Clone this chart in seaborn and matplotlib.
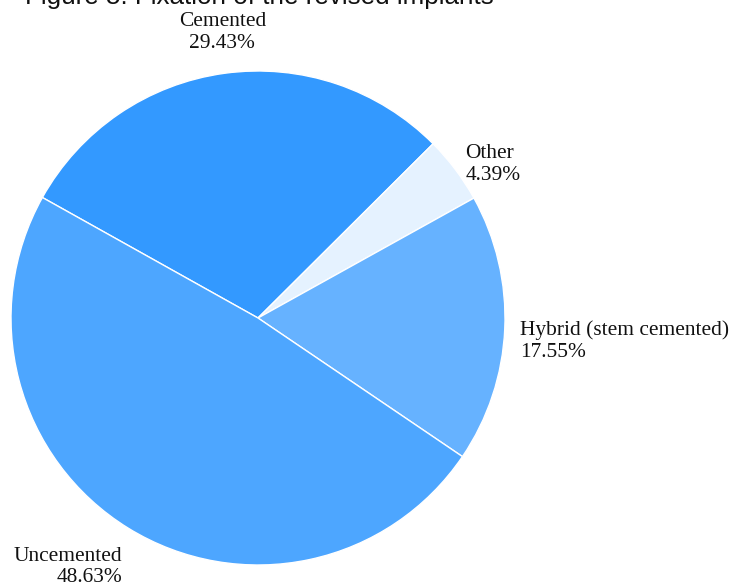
import matplotlib
matplotlib.use("Agg")
import matplotlib.pyplot as plt
import numpy as np
import seaborn as sns

sns.set_theme(style="white")

# Fixation type of revised implants
categories = ["Cemented", "Other", "Hybrid (stem cemented)", "Uncemented"]
shares = [29.43, 4.39, 17.55, 48.63]
colors = ["#3399FF", "#E5F2FF", "#66B2FF", "#4DA6FF"]
title = "Figure 5: Fixation of the revised implants"

# label offsets (pixels) from the rim point at each slice's mid angle
label_offset = [(-2, 41), (10, 5), (15, -12), (-6, -39)]
label_ha = ["center", "left", "left", "right"]

W, H = 730, 588
fig = plt.figure(figsize=(W / 100, H / 100), dpi=100)
cx, cy, R = 258, 318, 247
ax = fig.add_axes([(cx - R) / W, (H - cy - R) / H, 2 * R / W, 2 * R / H])

wedges, _ = ax.pie(
    shares,
    colors=colors,
    startangle=150.8,
    counterclock=False,
    radius=1.0,
    wedgeprops=dict(edgecolor="white", linewidth=1.0),
)
ax.set_xlim(-1, 1)
ax.set_ylim(-1, 1)
ax.set_aspect("equal")
ax.axis("off")

serif = ["Liberation Serif", "DejaVu Serif"]
for w, name, val, off, ha in zip(wedges, categories, shares, label_offset, label_ha):
    mid = np.deg2rad((w.theta1 + w.theta2) / 2)
    rim = (np.cos(mid), np.sin(mid))
    ax.annotate(f"{name}\n{val:.2f}%", xy=rim, xytext=off,
                textcoords="offset pixels", ha=ha, va="center",
                multialignment=ha, family=serif, fontsize=15.4,
                linespacing=1.18, color="#111111", annotation_clip=False)

fig.text(25 / W, 1 - 4 / H, title, ha="left", va="baseline",
         family=["Liberation Sans", "DejaVu Sans"], fontsize=18.7, color="#111111")

fig.savefig("out.png", dpi=100, facecolor="white")
